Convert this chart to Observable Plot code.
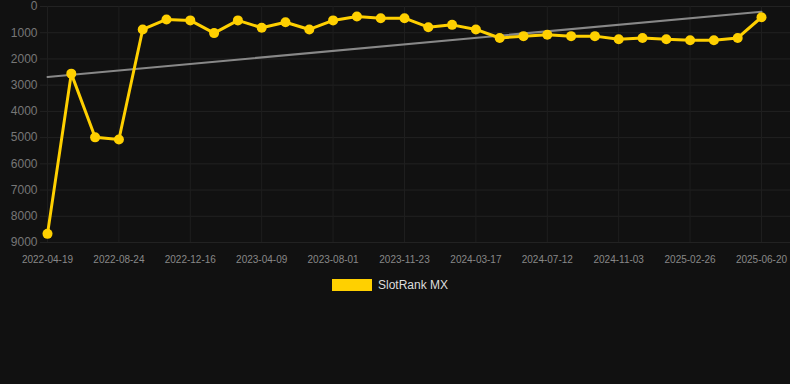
<!DOCTYPE html>
<html>
<head>
<meta charset="utf-8">
<script src="https://cdn.jsdelivr.net/npm/d3@7"></script>
<script src="https://cdn.jsdelivr.net/npm/@observablehq/plot@0.6"></script>
<style>
  html, body { margin: 0; padding: 0; background: #111111; }
  body { width: 790px; height: 384px; overflow: hidden; font-family: "Liberation Sans", Arial, sans-serif; }
  #chart svg { display: block; }
  #legend { display: flex; align-items: center; justify-content: center; margin-top: 3px; margin-left: -10px; height: 12px; }
  #legend .sw { width: 40px; height: 12px; background: #FFD000; margin-right: 6px; }
  #legend .lb { color: #dddddd; font-size: 12px; }
</style>
</head>
<body>
<div id="chart"></div>
<div id="legend"><span class="sw"></span><span class="lb">SlotRank MX</span></div>
<script>
const dates = [
  "2022-04-19","2022-06-01","2022-07-13","2022-08-24","2022-10-01","2022-11-08",
  "2022-12-16","2023-01-24","2023-03-02","2023-04-09","2023-05-17","2023-06-24",
  "2023-08-01","2023-09-08","2023-10-16","2023-11-23","2024-01-01","2024-02-08",
  "2024-03-17","2024-04-24","2024-06-04","2024-07-12","2024-08-19","2024-09-26",
  "2024-11-03","2024-12-11","2025-01-18","2025-02-26","2025-04-04","2025-05-12",
  "2025-06-20"
];
const ranks = [
  8670, 2560, 4990, 5070, 875, 495,
  530, 1015, 530, 810, 600, 875,
  530, 380, 445, 445, 790, 700,
  875, 1200, 1130, 1080, 1130, 1130,
  1250, 1200, 1250, 1290, 1290, 1200,
  410
];
const yTicks = [0,1000,2000,3000,4000,5000,6000,7000,8000,9000];
const xTickIdx = [0,3,6,9,12,15,18,21,24,27,30];
const seriesName = "SlotRank MX";

const data = dates.map((d, i) => ({i, date: d, rank: ranks[i]}));

const chart = Plot.plot({
  width: 790,
  height: 276,
  marginTop: 6,
  marginBottom: 34,
  marginLeft: 40,
  marginRight: 0,
  style: {background: "#111111", color: "#888888", fontFamily: "Liberation Sans, Arial, sans-serif"},
  x: {type: "linear", domain: [0, 30], insetLeft: 7, insetRight: 29},
  y: {domain: [0, 9000], reverse: true},
  marks: [
    Plot.gridY(yTicks, {stroke: "#222222", strokeOpacity: 1}),
    Plot.gridX(xTickIdx, {stroke: "#1e1e1e", strokeOpacity: 1}),
    Plot.axisY(yTicks, {tickSize: 0, tickPadding: 3, fontSize: 12, fill: "#777777", label: null, tickFormat: d => String(d)}),
    Plot.axisX(xTickIdx, {tickSize: 0, tickPadding: 13, fontSize: 10, fill: "#888888", label: null, tickFormat: i => dates[i]}),
    Plot.linearRegressionY(data, {x: "i", y: "rank", stroke: "#888888", strokeWidth: 2, ci: 0}),
    Plot.line(data, {x: "i", y: "rank", stroke: "#FFD000", strokeWidth: 3}),
    Plot.dot(data, {x: "i", y: "rank", fill: "#FFD000", r: 5})
  ]
});
document.getElementById("chart").appendChild(chart);
</script>
</body>
</html>
